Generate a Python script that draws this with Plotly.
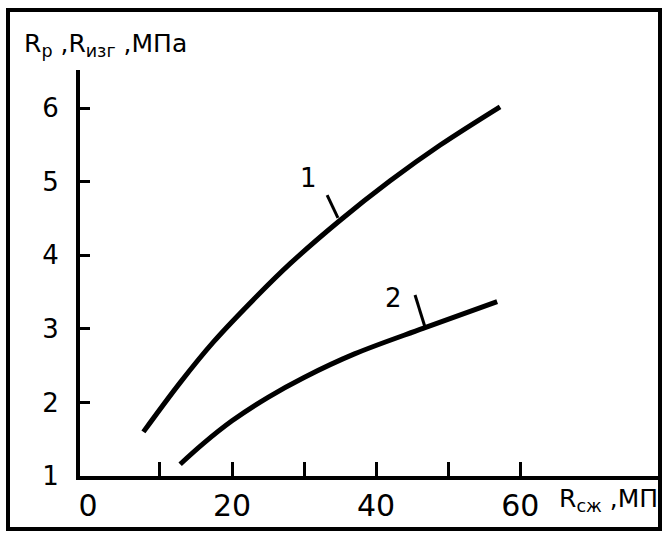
import plotly.graph_objects as go

# ---- data ----
curve1_x = [7.7, 12.8, 17.4, 23.4, 28.1, 34.8, 41.9, 48.9, 57.2]
curve1_y = [1.60, 2.27, 2.82, 3.44, 3.89, 4.46, 5.01, 5.50, 6.02]

curve2_x = [12.8, 16.0, 20.0, 25.0, 30.0, 37.0, 46.6, 56.8]
curve2_y = [1.16, 1.44, 1.75, 2.07, 2.34, 2.66, 3.01, 3.37]

x_tick_vals = [0, 20, 40, 60]
x_tick_text = ["0", "20", "40", "60"]
x_minor_ticks = [10, 20, 30, 40, 50, 60]
y_tick_vals = [1, 2, 3, 4, 5, 6]
y_tick_text = ["1", "2", "3", "4", "5", "6"]

curve_labels = ["1", "2"]
y_title = "R<sub>р</sub> ,R<sub>изг</sub> ,МПа"
x_title = "R<sub>сж</sub> ,МП"

# ---- layout geometry (pixels) ----
W, H = 664, 534
L, R, T, B = 80, 660, 70, 476
XR = [-1.1, 79.4]
YR = [1.0, 6.52]

def px(p):
    return (p - L) / (R - L)

def py(p):
    return (B - p) / (B - T)

FONT = "DejaVu Sans, Verdana, sans-serif"

fig = go.Figure()
for xs, ys in [(curve1_x, curve1_y), (curve2_x, curve2_y)]:
    fig.add_trace(go.Scatter(x=xs, y=ys, mode="lines",
                             line=dict(color="black", width=5, shape="spline", smoothing=1.0),
                             showlegend=False, hoverinfo="skip"))

# curve label positions: (label x, label y, leader start, leader end)
label_pos = [
    (30.6, 5.05, (33.2, 4.82), (34.7, 4.51)),
    (42.4, 3.42, (45.4, 3.46), (46.8, 3.02)),
]
for txt, (lx, ly, (ax0, ay0), (ax1, ay1)) in zip(curve_labels, label_pos):
    fig.add_annotation(x=lx, y=ly, text=txt, showarrow=False,
                       font=dict(family=FONT, size=26, color="black"))
    fig.add_shape(type="line", x0=ax0, y0=ay0, x1=ax1, y1=ay1,
                  line=dict(color="black", width=3))

fig.add_annotation(xref="paper", yref="paper", x=px(22), y=py(45),
                   xanchor="left", yanchor="middle", text=y_title, showarrow=False,
                   font=dict(family=FONT, size=25, color="black"))
fig.add_annotation(xref="paper", yref="paper", x=px(557), y=py(500),
                   xanchor="left", yanchor="middle", text=x_title, showarrow=False,
                   font=dict(family=FONT, size=25, color="black"))

# outer frame
fig.add_shape(type="rect", xref="paper", yref="paper",
              x0=px(8), x1=px(660), y0=py(529), y1=py(10),
              line=dict(color="black", width=4), layer="above")

fig.update_xaxes(range=XR, showgrid=False, zeroline=False,
                 showline=True, linecolor="black", linewidth=4,
                 tickmode="array", tickvals=x_tick_vals, ticktext=x_tick_text,
                 ticks="", ticklabelstandoff=0,
                 tickfont=dict(family=FONT, size=30, color="black"),
                 minor=dict(tickmode="array", tickvals=x_minor_ticks, ticks="inside",
                            ticklen=14, tickwidth=3, tickcolor="black", showgrid=False))
fig.update_yaxes(range=YR, showgrid=False, zeroline=False,
                 showline=True, linecolor="black", linewidth=4,
                 tickmode="array", tickvals=y_tick_vals, ticktext=y_tick_text,
                 ticks="inside", ticklen=10, tickwidth=3, tickcolor="black",
                 ticklabelstandoff=12,
                 tickfont=dict(family=FONT, size=26, color="black"))

fig.update_layout(width=W, height=H, autosize=False,
                  margin=dict(l=L, r=W - R, t=T, b=H - B),
                  plot_bgcolor="white", paper_bgcolor="white")

fig.write_html("out.html", config={"displayModeBar": False},
               post_script="document.body.style.margin='0px';")
